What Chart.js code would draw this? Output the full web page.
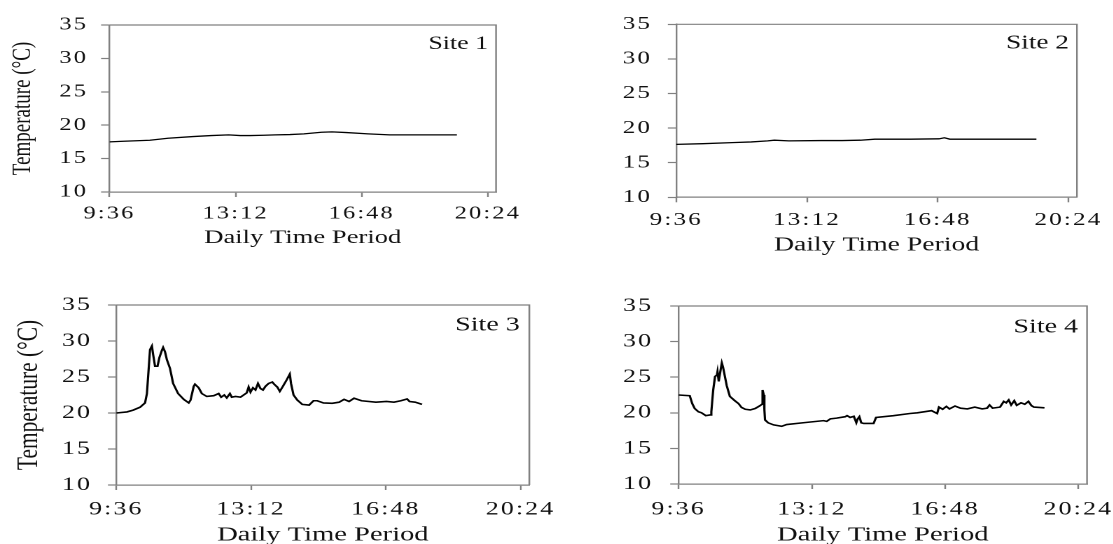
<!DOCTYPE html>
<html>
<head>
<meta charset="utf-8">
<title>Daily temperature at four sites</title>
<script src="https://cdn.jsdelivr.net/npm/chart.js@4.4.1/dist/chart.umd.min.js"></script>
<style>
    html, body {
        margin: 0;
        padding: 0;
        background: #fff;
        width: 1113px;
        height: 544px;
        overflow: hidden;
    }
    .panel {
        position: absolute;
        transform-origin: 0 0;
        transform: scaleX(1.4); /* the figure is drawn wide */
    }
    .panel canvas {
        width: 420px;
        height: 290px;
    }
</style>
</head>
<body>
<div class="panel" style="left:0px; top:0px;"><canvas id="site1" width="420" height="290"></canvas></div>
<div class="panel" style="left:556px; top:0px;"><canvas id="site2" width="420" height="290"></canvas></div>
<div class="panel" style="left:0px; top:272px;"><canvas id="site3" width="420" height="290"></canvas></div>
<div class="panel" style="left:556px; top:272px;"><canvas id="site4" width="420" height="290"></canvas></div>

<script>
// --- Logged readings (time of day, temperature in °C) ---
const timeTicks = ['9:36', '13:12', '16:48', '20:24'];
const tempTicks = [10, 15, 20, 25, 30, 35];
const axisEnd = '20:38';

const site1Times = ['9:36', '10:00', '10:45', '11:16', '11:59', '12:30', '13:00', '13:20', '13:37', '14:00',
    '14:20', '14:45', '15:09', '15:39', '15:57', '16:22', '16:59', '17:36', '18:15', '18:50', '19:31'];
const site1Temps = [17.5, 17.6, 17.75, 18.05, 18.3, 18.45, 18.55, 18.45, 18.45, 18.5,
    18.55, 18.6, 18.7, 18.95, 19.0, 18.9, 18.7, 18.55, 18.55, 18.55, 18.55];

const site2Times = ['9:36', '10:20', '11:08', '11:40', '12:07', '12:18', '12:42', '13:35', '14:10', '14:40',
    '15:04', '16:03', '16:50', '16:59', '17:08', '18:00', '19:31'];
const site2Temps = [17.65, 17.75, 17.9, 18.0, 18.15, 18.25, 18.15, 18.2, 18.2, 18.25,
    18.4, 18.4, 18.45, 18.6, 18.4, 18.4, 18.4];

const site3Times = ['9:36', '9:53', '10:03', '10:14', '10:22', '10:25', '10:30', '10:33', '10:35', '10:38',
    '10:42', '10:45', '10:49', '10:51', '10:54', '10:57', '11:02', '11:07', '11:15', '11:24',
    '11:32', '11:35', '11:40', '11:42', '11:48', '11:53', '12:01', '12:12', '12:20', '12:24',
    '12:29', '12:33', '12:38', '12:41', '12:47', '12:55', '13:05', '13:08', '13:11', '13:15',
    '13:19', '13:23', '13:27', '13:31', '13:35', '13:40', '13:46', '13:49', '13:54', '13:58',
    '14:03', '14:09', '14:14', '14:16', '14:20', '14:26', '14:34', '14:45', '14:52', '14:58',
    '15:08', '15:22', '15:33', '15:41', '15:49', '15:57', '16:09', '16:32', '16:49', '17:01',
    '17:12', '17:22', '17:26', '17:35', '17:46'];
const site3Temps = [20.0, 20.15, 20.4, 20.8, 21.4, 22.7, 28.8, 29.3, 28.1, 26.5,
    26.5, 27.7, 28.7, 29.1, 28.5, 27.4, 26.2, 24.1, 22.7, 21.9,
    21.4, 21.8, 23.7, 24.0, 23.5, 22.7, 22.3, 22.4, 22.7, 22.2,
    22.5, 22.1, 22.7, 22.2, 22.3, 22.2, 22.8, 23.6, 22.9, 23.5,
    23.2, 24.1, 23.4, 23.2, 23.7, 24.1, 24.3, 24.0, 23.6, 23.0,
    23.7, 24.6, 25.4, 24.1, 22.5, 21.8, 21.2, 21.1, 21.7, 21.7,
    21.4, 21.35, 21.5, 21.9, 21.6, 22.05, 21.7, 21.5, 21.6, 21.5,
    21.7, 21.95, 21.6, 21.5, 21.2];

const site4Times = ['9:36', '9:54', '9:58', '10:02', '10:08', '10:13', '10:20', '10:27', '10:29', '10:32',
    '10:35', '10:38', '10:39', '10:41', '10:43', '10:46', '10:48', '10:51', '10:54', '10:59',
    '11:07', '11:13', '11:18', '11:24', '11:32', '11:40', '11:48', '11:51', '11:52', '11:54',
    '11:55', '11:56', '12:01', '12:10', '12:23', '12:31', '12:58', '13:31', '13:36', '13:42',
    '13:52', '14:06', '14:09', '14:14', '14:20', '14:24', '14:26', '14:29', '14:32', '14:36',
    '14:52', '14:56', '15:24', '15:51', '16:03', '16:26', '16:35', '16:38', '16:44', '16:50',
    '16:55', '17:04', '17:13', '17:24', '17:36', '17:48', '17:56', '18:00', '18:05', '18:17',
    '18:23', '18:27', '18:31', '18:35', '18:40', '18:44', '18:51', '18:57', '19:03', '19:08',
    '19:12', '19:29'];
const site4Temps = [22.5, 22.4, 21.3, 20.6, 20.15, 20.0, 19.6, 19.7, 20.15, 23.2,
    25.1, 25.3, 25.8, 24.4, 25.5, 27.0, 26.4, 25.1, 23.8, 22.3,
    21.7, 21.3, 20.75, 20.5, 20.4, 20.6, 21.0, 21.2, 23.2, 22.5,
    20.4, 19.0, 18.6, 18.3, 18.1, 18.35, 18.6, 18.9, 18.8, 19.15,
    19.25, 19.45, 19.6, 19.35, 19.5, 18.6, 19.1, 19.45, 18.6, 18.5,
    18.5, 19.35, 19.6, 19.9, 20.0, 20.3, 19.9, 20.8, 20.5, 20.9,
    20.55, 20.95, 20.65, 20.55, 20.8, 20.55, 20.65, 21.1, 20.65, 20.8,
    21.6, 21.4, 21.8, 21.1, 21.7, 21.05, 21.4, 21.2, 21.6, 21.0,
    20.8, 20.7];

// --- Styling ---
const FONT = "'Liberation Serif', 'Times New Roman', serif";
const INK = '#111';
const FRAME = '#808080';

Chart.defaults.font.family = FONT;
Chart.defaults.color = INK;

function toMinutes(t) {
    const [h, m] = t.split(':').map(Number);
    return h * 60 + m;
}

// Tick labels get a little extra tracking; titles do not.
// Tick labels sit on layer z=1, so they are drawn after the datasets.
const tickSpacing = {
    id: 'tickSpacing',
    beforeDraw(chart) { chart.ctx.letterSpacing = '0px'; },
    afterDatasetsDraw(chart) { chart.ctx.letterSpacing = '1.5px'; },
    afterDraw(chart) { chart.ctx.letterSpacing = '0px'; }
};

// Top and right edges of the plot box
const frameBox = {
    id: 'frameBox',
    beforeDatasetsDraw(chart) {
        const { ctx, chartArea: a } = chart;
        ctx.save();
        ctx.strokeStyle = FRAME;
        ctx.lineWidth = 1.2;
        ctx.beginPath();
        ctx.moveTo(a.left, a.top);
        ctx.lineTo(a.right, a.top);
        ctx.lineTo(a.right, a.bottom);
        ctx.stroke();
        ctx.restore();
    }
};

// "Site N" tag in the upper right corner
const siteLabel = {
    id: 'siteLabel',
    afterDraw(chart, args, opts) {
        const { ctx, chartArea: a } = chart;
        ctx.save();
        ctx.letterSpacing = '0px';
        ctx.font = opts.size + 'px ' + FONT;
        ctx.fillStyle = INK;
        ctx.textAlign = 'right';
        ctx.textBaseline = 'middle';
        ctx.fillText(opts.text, a.right - opts.dx, a.top + opts.dy);
        ctx.restore();
    }
};

const panels = [
    { id: 'site1', name: 'Site 1', times: site1Times, temps: site1Temps, lineWidth: 1.3,
      yAxisWidth: 78.2, padTop: 25, padRight: 65.7, xAxisHeight: 98,
      tickSize: 17.5, yTickPad: 9.3, xTickPad: 6.5, titleSize: 19, xTitlePad: 40.6,
      yTitle: true, yTitleSize: 19, yTitlePad: 5, siteSize: 18.5, siteDx: 5.7, siteDy: 19 },
    { id: 'site2', name: 'Site 2', times: site2Times, temps: site2Temps, lineWidth: 1.3,
      yAxisWidth: 85.9, padTop: 24.3, padRight: 47.9, xAxisHeight: 92.7,
      tickSize: 18, yTickPad: 11.3, xTickPad: 7.2, titleSize: 19.8, xTitlePad: 33,
      yTitle: false, siteSize: 19.5, siteDx: 5.7, siteDy: 19 },
    { id: 'site3', name: 'Site 3', times: site3Times, temps: site3Temps, lineWidth: 1.6,
      yAxisWidth: 83.1, padTop: 33, padRight: 41.9, xAxisHeight: 77,
      tickSize: 18.5, yTickPad: 11.3, xTickPad: 8.4, titleSize: 20.4, xTitlePad: 14.5,
      yTitle: true, yTitleSize: 21.4, yTitlePad: 7.9, siteSize: 20, siteDx: 6.9, siteDy: 20.3 },
    { id: 'site4', name: 'Site 4', times: site4Times, temps: site4Temps, lineWidth: 1.6,
      yAxisWidth: 87.6, padTop: 34, padRight: 40.7, xAxisHeight: 78,
      tickSize: 18.5, yTickPad: 12.2, xTickPad: 9.4, titleSize: 20.4, xTitlePad: 14.5,
      yTitle: false, siteSize: 20, siteDx: 6.4, siteDy: 21 }
];

function makeChart(p) {
    const points = p.times.map((t, i) => ({ x: toMinutes(t), y: p.temps[i] }));

    return new Chart(document.getElementById(p.id), {
        type: 'line',
        data: {
            datasets: [{
                data: points,
                borderColor: '#000',
                borderWidth: p.lineWidth,
                pointRadius: 0,
                tension: 0,
                fill: false
            }]
        },
        options: {
            responsive: false,
            animation: false,
            devicePixelRatio: 2,
            events: [],
            layout: {
                padding: { top: p.padTop, right: p.padRight, bottom: 0, left: 0 }
            },
            plugins: {
                legend: { display: false },
                tooltip: { enabled: false },
                siteLabel: { text: p.name, size: p.siteSize, dx: p.siteDx, dy: p.siteDy }
            },
            scales: {
                x: {
                    type: 'linear',
                    min: toMinutes(timeTicks[0]),
                    max: toMinutes(axisEnd),
                    afterBuildTicks: scale => {
                        scale.ticks = timeTicks.map(t => ({ value: toMinutes(t) }));
                    },
                    afterFit: scale => { scale.height = p.xAxisHeight; },
                    grid: {
                        drawOnChartArea: false,
                        drawTicks: true,
                        tickLength: 5,
                        tickColor: FRAME,
                        tickWidth: 1.2
                    },
                    border: { color: FRAME, width: 1.2 },
                    ticks: {
                        autoSkip: false,
                        maxRotation: 0,
                        padding: p.xTickPad,
                        color: INK,
                        z: 1,
                        font: { family: FONT, size: p.tickSize },
                        callback: (value, index) => timeTicks[index]
                    },
                    title: {
                        display: true,
                        text: 'Daily Time Period',
                        color: INK,
                        font: { family: FONT, size: p.titleSize },
                        padding: { top: 0, bottom: p.xTitlePad }
                    }
                },
                y: {
                    min: tempTicks[0],
                    max: tempTicks[tempTicks.length - 1],
                    afterFit: scale => { scale.width = p.yAxisWidth; },
                    grid: {
                        drawOnChartArea: false,
                        drawTicks: true,
                        tickLength: 6,
                        tickColor: FRAME,
                        tickWidth: 1.2
                    },
                    border: { color: FRAME, width: 1.2 },
                    ticks: {
                        stepSize: tempTicks[1] - tempTicks[0],
                        padding: p.yTickPad,
                        color: INK,
                        z: 1,
                        font: { family: FONT, size: p.tickSize }
                    },
                    title: {
                        display: p.yTitle,
                        text: 'Temperature (°C)',
                        color: INK,
                        font: { family: FONT, size: p.yTitleSize || 18 },
                        padding: { top: p.yTitlePad || 0, bottom: 0 }
                    }
                }
            }
        },
        plugins: [tickSpacing, frameBox, siteLabel]
    });
}

panels.forEach(makeChart);
</script>
</body>
</html>
